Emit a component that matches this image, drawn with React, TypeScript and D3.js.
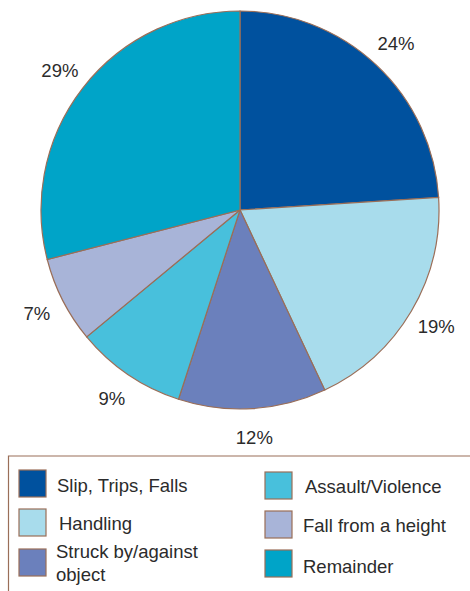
import React from "react";
import * as d3 from "d3";

const categories = ["Slip, Trips, Falls", "Handling", "Struck by/against object", "Assault/Violence", "Fall from a height", "Remainder"];
const values = [24, 19, 12, 9, 7, 29];
const colors = ["#00519e", "#a8dcec", "#6b80bc", "#48c0dc", "#a8b4d8", "#00a4c8"];
const labels = ["24%", "19%", "12%", "9%", "7%", "29%"];

const W = 470, H = 591;
const cx = 240, cy = 210, R = 199;
const stroke = "#9a6e58";

export default function App() {
  const pie = d3.pie<number>().sort(null).value((d) => d)(values);
  const arc = d3.arc<d3.PieArcDatum<number>>().innerRadius(0).outerRadius(R);
  const labelArc = d3.arc<d3.PieArcDatum<number>>().innerRadius(R + 29).outerRadius(R + 29);

  const legendItems = [
    { i: 0, x: 19, y: 470, lines: ["Slip, Trips, Falls"], tx: 57, ty: [492] },
    { i: 1, x: 19, y: 509, lines: ["Handling"], tx: 59, ty: [530] },
    { i: 2, x: 19, y: 549, lines: ["Struck by/against", "object"], tx: 56, ty: [558, 581] },
    { i: 3, x: 265, y: 472, lines: ["Assault/Violence"], tx: 305, ty: [493] },
    { i: 4, x: 265, y: 511, lines: ["Fall from a height"], tx: 303, ty: [532] },
    { i: 5, x: 265, y: 550, lines: ["Remainder"], tx: 303, ty: [573] },
  ];

  return (
    <svg width={W} height={H} style={{ position: "absolute", left: 0, top: 0, background: "#fff" }}
      fontFamily="'Liberation Sans', Arial, sans-serif">
      <g transform={`translate(${cx},${cy})`}>
        {pie.map((d, i) => (
          <path key={i} d={arc(d) || ""} fill={colors[i]} stroke={stroke} strokeWidth={1.2} />
        ))}
        {pie.map((d, i) => {
          const [x, y] = labelArc.centroid(d);
          return (
            <text key={i} x={x} y={y} textAnchor="middle" dominantBaseline="central" fontSize={18.5} fill="#2b2b2b">
              {labels[i]}
            </text>
          );
        })}
      </g>
      <path d={`M${W + 2},456 H8.5 V${H + 2}`} fill="none" stroke={stroke} strokeWidth={1.2} />
      {legendItems.map((it) => (
        <g key={it.i}>
          <rect x={it.x} y={it.y} width={27} height={27} fill={colors[it.i]} stroke={stroke} strokeWidth={1.2} />
          {it.lines.map((l, k) => (
            <text key={k} x={it.tx} y={it.ty[k]} fontSize={18.5} fill="#2b2b2b">{l}</text>
          ))}
        </g>
      ))}
    </svg>
  );
}
